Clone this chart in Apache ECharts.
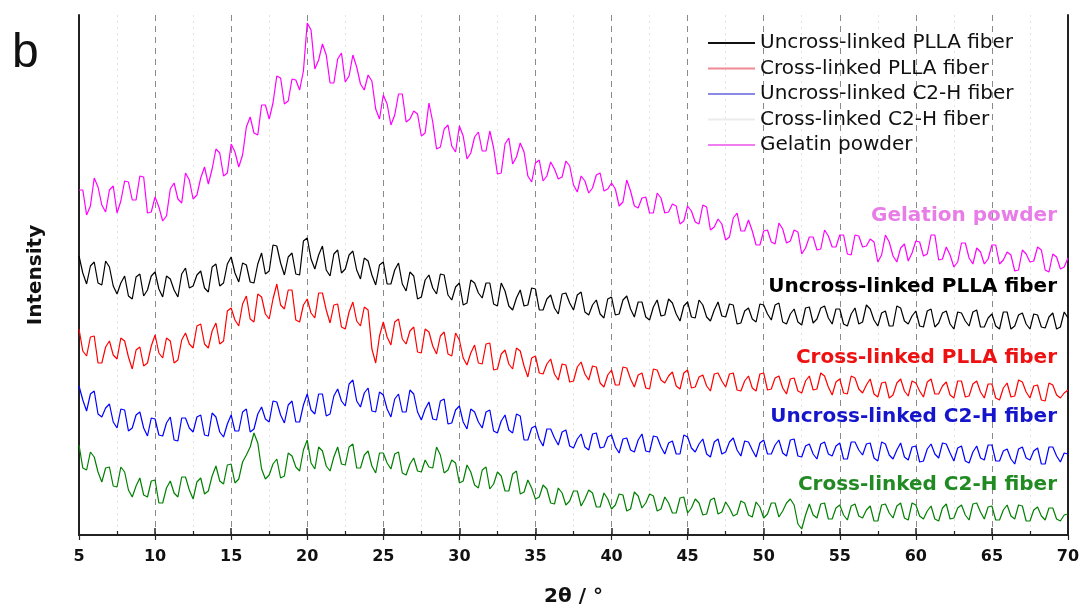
<!DOCTYPE html>
<html>
<head>
<meta charset="utf-8">
<script src="https://cdn.jsdelivr.net/npm/echarts@6/dist/echarts.min.js"></script>
<style>html,body{margin:0;padding:0;background:#fff}#c{width:1083px;height:607px}</style>
</head>
<body>
<div id="c"></div>
<script>
// 2θ sampling: 5° to 70° every 0.25°
const thetaStart = 5, thetaStep = 0.25;

const seriesNames = ['Uncross-linked PLLA fiber','Cross-linked PLLA fiber','Uncross-linked C2-H fiber','Cross-linked C2-H fiber','Gelatin powder'];
const xTicks = [5,10,15,20,25,30,35,40,45,50,55,60,65,70];

// intensities (arbitrary units, offset traces)
const uncrossPLLA = [
279,262,251,269,273,252,250,274,268,249,241,252,259,239,236,258,261,239,245,259,
263,246,238,259,256,245,238,261,267,247,249,260,264,247,243,268,271,249,252,271,
278,262,253,272,270,253,252,271,282,261,264,290,289,272,260,278,282,261,260,294,
297,276,266,280,289,265,259,281,285,262,266,280,284,265,256,277,274,260,250,270,
273,251,251,265,272,251,244,263,259,236,238,255,260,247,241,261,260,240,235,248,
252,230,232,255,252,242,237,252,252,231,229,252,244,229,225,237,245,229,230,247,
246,225,225,236,240,227,221,241,242,232,225,240,243,223,220,230,235,221,217,236,
238,220,221,235,239,226,218,233,233,218,215,228,235,219,220,236,232,221,214,229,
233,218,217,235,230,218,214,225,233,219,218,231,230,211,212,224,227,216,213,231,
230,221,215,230,232,213,211,221,226,213,210,227,228,212,216,227,229,217,211,226,
226,211,209,221,227,211,213,230,226,215,209,222,224,209,209,229,227,214,211,219,
224,209,208,224,226,208,212,222,224,211,206,223,222,214,209,223,225,208,208,217,
221,209,206,223,223,206,209,220,222,211,206,221,220,208,207,218,222,206,208,223,
217];
const crossPLLA = [
206,184,179,198,199,172,172,188,194,180,176,197,194,178,166,185,188,169,172,189,
200,182,177,197,194,172,175,195,202,191,187,209,211,191,187,204,212,191,194,224,
227,215,209,231,239,216,213,241,238,221,216,236,251,230,226,245,245,215,213,230,
236,222,217,242,242,225,212,230,231,208,206,223,233,214,209,228,225,186,172,199,
213,198,190,213,216,196,191,204,208,183,182,206,203,189,181,199,203,181,179,202,
195,177,170,182,190,172,171,191,192,165,166,181,185,171,166,187,184,169,158,177,
179,162,161,171,176,161,155,171,170,153,154,168,173,161,155,169,168,152,148,160,
165,150,150,168,167,156,148,160,162,147,146,166,165,155,152,159,163,149,146,162,
165,147,148,158,160,149,144,161,162,154,148,161,162,145,144,154,159,147,144,161,
162,145,146,157,159,147,141,156,157,144,142,154,159,145,146,162,159,148,140,153,
156,142,141,159,157,146,142,150,156,141,138,152,153,137,140,152,156,144,139,154,
152,144,138,153,156,141,141,149,153,140,137,154,154,138,139,151,154,143,137,151,
151,137,135,147,152,138,139,155,153,143,137,149,150,135,134,152,150,140,137,142,
145];
const uncrossC2H = [
149,135,124,141,144,121,118,127,131,113,107,126,125,104,107,120,123,107,99,117,
116,100,99,112,118,95,94,117,117,107,103,118,120,100,99,122,118,103,98,111,
120,104,104,123,126,103,106,121,128,116,113,134,133,120,112,130,134,113,113,130,
141,125,121,141,141,119,121,139,146,134,129,151,155,134,128,142,147,124,123,143,
140,126,118,136,141,123,123,145,141,123,115,126,133,116,115,134,136,111,112,125,
129,113,106,126,123,113,107,123,125,104,102,114,120,105,102,121,119,95,95,107,
109,96,89,106,106,97,90,103,105,89,87,96,101,88,85,101,102,87,88,98,
100,88,82,96,97,85,83,95,101,84,83,99,98,88,81,92,94,81,81,100,
98,87,83,91,96,81,78,93,96,81,83,93,97,85,79,94,93,85,78,92,
95,81,81,90,95,82,79,95,96,79,78,89,91,81,76,91,93,81,79,89,
92,76,76,93,93,85,80,91,92,77,74,93,91,80,76,85,92,78,75,88,
89,73,74,86,91,81,77,92,91,82,74,87,89,74,72,83,89,77,75,90,
90,74,74,84,86,76,71,86,88,77,75,84,87,71,71,88,88,79,73,82,
81];
const crossC2H = [
90,67,65,83,78,63,53,67,68,49,48,68,63,45,38,49,57,40,38,54,
55,32,32,47,54,42,38,58,58,45,36,53,57,41,44,59,69,54,51,70,
71,52,56,73,80,88,102,92,66,56,60,71,76,57,59,82,79,68,64,85,
95,72,66,88,84,69,64,78,88,71,70,88,91,67,67,80,84,69,62,82,
82,72,66,81,83,62,60,71,77,64,63,75,68,67,88,80,62,65,75,72,
52,54,70,63,50,47,65,68,46,51,63,59,44,44,61,64,41,43,55,47,
36,38,50,46,32,31,47,42,30,34,44,44,29,36,45,42,28,28,42,36,
26,30,41,40,24,26,43,39,27,32,41,39,24,26,38,32,22,22,37,38,
22,27,36,32,20,21,35,37,21,23,33,27,19,21,34,32,20,18,33,28,
17,21,32,32,18,24,32,36,30,11,6,20,31,20,17,31,32,16,16,27,
30,20,15,29,31,19,17,25,29,14,14,30,31,22,17,29,32,17,15,32,
30,19,16,24,29,16,14,27,31,16,17,27,30,20,15,31,32,23,16,28,
29,15,15,25,30,19,16,30,29,14,14,25,28,19,15,27,27,16,14,20,
21];
const gelatin = [
345,345,320,329,357,348,330,323,345,349,322,334,354,353,335,335,359,358,322,323,
338,328,314,319,346,352,336,332,362,355,336,340,357,368,351,366,386,382,359,362,
391,383,368,380,408,418,402,400,430,430,416,432,459,457,431,434,456,455,445,464,
512,505,466,475,491,480,452,452,476,482,453,459,480,468,451,445,460,454,426,416,
440,431,410,420,441,441,413,416,424,421,399,402,432,413,386,388,406,410,389,383,
409,399,376,382,398,403,384,384,404,387,361,362,391,397,371,378,392,383,359,353,
372,375,354,359,373,366,356,358,374,369,350,343,359,354,342,347,360,362,344,346,
352,346,329,333,355,344,329,327,337,338,322,322,342,337,322,323,331,329,311,314,
329,324,313,311,330,328,305,308,316,311,295,298,317,322,304,304,315,304,290,290,
304,305,293,291,312,306,292,294,305,303,281,287,298,298,285,286,305,299,288,288,
300,300,281,280,300,299,288,289,296,293,273,280,300,293,279,273,287,291,274,282,
294,293,279,281,300,300,275,276,288,280,268,273,292,292,277,271,287,283,271,276,
290,290,271,275,283,280,264,265,285,281,273,274,288,285,265,263,281,278,266,268,
277];

const seriesValues = [uncrossPLLA, crossPLLA, uncrossC2H, crossC2H, gelatin];
const lineColors = ['#000000','#ff0000','#0000ff','#008000','#ff00ff'];
const legendLineColors = ['#111111','#f08a96','#8a8ae6','#ececec','#f07ef0'];
const inPlotLabels = ['Gelation powder','Uncross-linked PLLA fiber','Cross-linked PLLA fiber','Uncross-linked C2-H fiber','Cross-linked C2-H fiber'];
const inPlotColors = ['#e87de8','#000000','#ee1111','#1515cc','#228a22'];

function pairs(vals){ return vals.map((v,i)=>[thetaStart + i*thetaStep, v]); }

const chart = echarts.init(document.getElementById('c'), null, {renderer:'canvas'});

const labelY = [216, 287, 358, 417, 485];

const option = {
  animation:false,
  backgroundColor:'#ffffff',
  grid:{left:79, right:15, top:15, bottom:72, containLabel:false, outerBoundsMode:'none'},
  legend:{
    orient:'vertical', left:708, top:33, padding:0,
    icon:'rect', itemWidth:47, itemHeight:2, itemGap:5.5,
    data: seriesNames.map((n,i)=>({name:n, itemStyle:{color:legendLineColors[i]}})),
    textStyle:{fontFamily:'DejaVu Sans', fontSize:20, color:'#111', lineHeight:20}
  },
  xAxis:[{
    type:'value', min:5, max:70, interval:5, position:'bottom',
    axisLine:{lineStyle:{color:'#222', width:2}},
    axisTick:{inside:true, length:7, lineStyle:{color:'#222', width:1.5}},
    minorTick:{show:true, splitNumber:2, length:4, lineStyle:{color:'#222', width:1.2}},
    axisLabel:{fontFamily:'DejaVu Sans', fontWeight:'bold', fontSize:16, color:'#111', margin:14,
      formatter:(v)=> xTicks.includes(v) ? String(v) : ''},
    splitLine:{show:true, lineStyle:{type:[6,5], color:'#8a8a8a', width:1}},
    minorSplitLine:{show:true, lineStyle:{type:[2,4], color:'#e3e3e3', width:1}},
    name:'2θ / °', nameLocation:'middle', nameGap:52,
    nameTextStyle:{fontFamily:'DejaVu Sans', fontWeight:'bold', fontSize:20, color:'#111'}
  },{
    type:'value', min:5, max:70, interval:5, position:'top',
    axisLine:{lineStyle:{color:'#222', width:2}},
    axisTick:{inside:true, length:5, lineStyle:{color:'#222', width:1.2}},
    axisLabel:{show:false}, splitLine:{show:false}
  }],
  yAxis:[{
    type:'value', min:0, max:520, position:'left',
    axisLine:{show:true, lineStyle:{color:'#222', width:2}},
    axisTick:{show:false}, axisLabel:{show:false}, splitLine:{show:false},
    name:'Intensity', nameLocation:'middle', nameGap:33,
    nameTextStyle:{fontFamily:'DejaVu Sans', fontWeight:'bold', fontSize:20, color:'#111'}
  },{
    type:'value', min:0, max:520, position:'right',
    axisLine:{show:true, lineStyle:{color:'#222', width:2}},
    axisTick:{show:false}, axisLabel:{show:false}, splitLine:{show:false}
  }],
  series: seriesNames.map((n,i)=>({
    name:n, type:'line', xAxisIndex:0, yAxisIndex:0, symbol:'none',
    data: pairs(seriesValues[i]),
    lineStyle:{color:lineColors[i], width:1.2},
    itemStyle:{color:lineColors[i]},
    z: 2
  })),
  graphic:[
    {type:'text', left:12, top:30, style:{text:'b', font:'48px "Liberation Sans"', fill:'#111'}},
    ...inPlotLabels.map((t,i)=>({
      type:'text', x:1057, y:labelY[i], z:10,
      style:{text:t, font:'bold 20px "DejaVu Sans"', fill:inPlotColors[i], align:'right', verticalAlign:'middle'}
    }))
  ]
};
chart.setOption(option);
</script>
</body>
</html>
